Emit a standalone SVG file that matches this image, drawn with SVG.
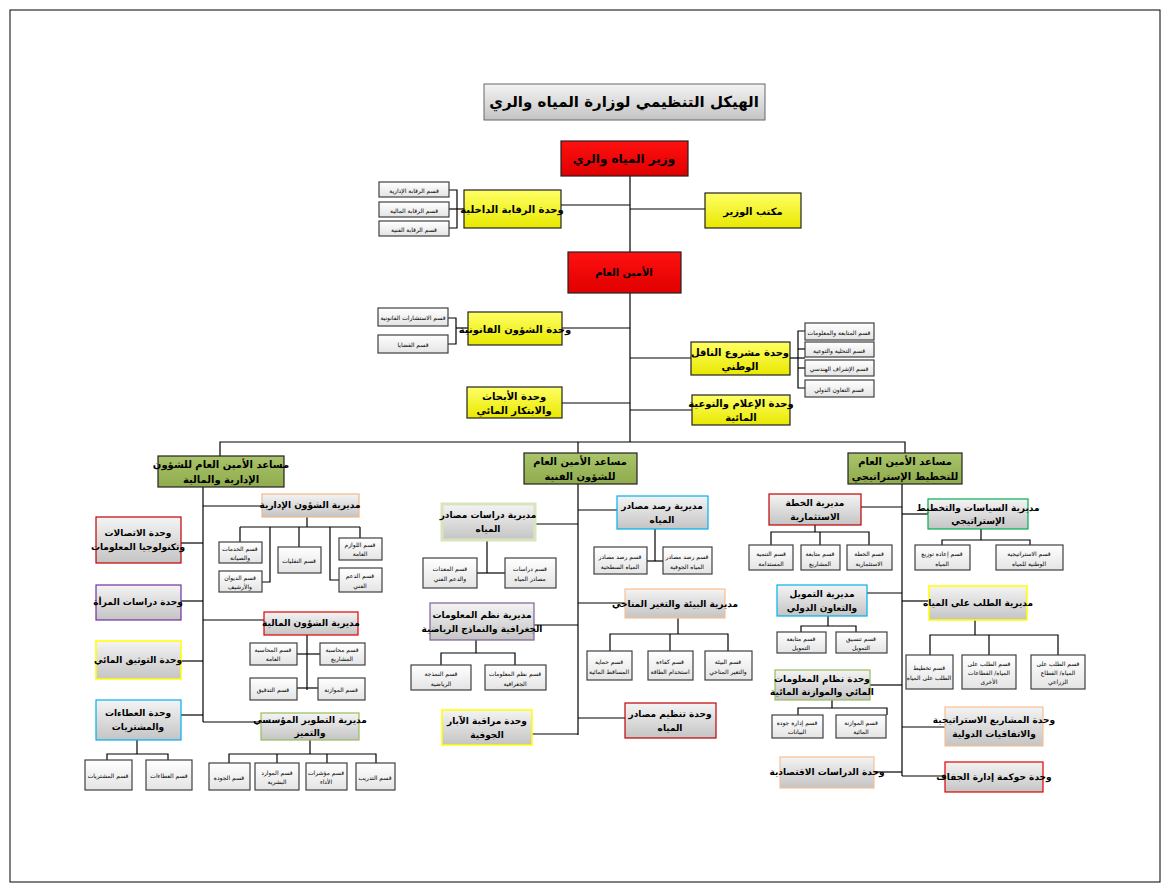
<svg xmlns="http://www.w3.org/2000/svg" width="1171" height="891" viewBox="0 0 1171 891">
<defs>
<linearGradient id="gg" x1="0" y1="0" x2="0" y2="1"><stop offset="0" stop-color="#f4f4f4"/><stop offset="1" stop-color="#c4c4c4"/></linearGradient>
<linearGradient id="gw" x1="0" y1="0" x2="0" y2="1"><stop offset="0" stop-color="#ffffff"/><stop offset="1" stop-color="#e4e4e4"/></linearGradient>
<linearGradient id="gy" x1="0" y1="0" x2="0" y2="1"><stop offset="0" stop-color="#ffff66"/><stop offset="1" stop-color="#e8e800"/></linearGradient>
<linearGradient id="gr" x1="0" y1="0" x2="0" y2="1"><stop offset="0" stop-color="#ff1010"/><stop offset="1" stop-color="#e00000"/></linearGradient>
<linearGradient id="go" x1="0" y1="0" x2="0" y2="1"><stop offset="0" stop-color="#a9c46a"/><stop offset="1" stop-color="#8fab4d"/></linearGradient>
</defs>
<style>
text{font-family:"DejaVu Sans","Noto Sans",sans-serif;text-anchor:middle;dominant-baseline:central;fill:#000}
.t{font-size:10px;font-weight:bold}
.s{font-size:6px}
.g{fill:url(#gg)}
.w{fill:url(#gw);stroke:#404040;stroke-width:1.2}
.y{fill:url(#gy);stroke:#222;stroke-width:1.2}
.r{fill:url(#gr);stroke:#222;stroke-width:1.2}
.o{fill:url(#go);stroke:#222;stroke-width:1.2}
.c line,.c polyline{stroke:#000;stroke-width:1.2;fill:none}
</style>
<rect width="1171" height="891" fill="#fff"/>
<rect x="10" y="10" width="1150" height="872" fill="none" stroke="#000" stroke-width="1"/>
<g class="c">
<line x1="630" y1="176" x2="630" y2="442"/>
<line x1="630" y1="209" x2="705" y2="209"/><line x1="561" y1="205" x2="630" y2="205"/>
<polyline points="449,190 457,190 457,228 449,228"/><line x1="449" y1="209" x2="464" y2="209"/>
<line x1="562" y1="328" x2="630" y2="328"/>
<polyline points="448,318 456,318 456,344 448,344"/><line x1="456" y1="328" x2="468" y2="328"/>
<line x1="630" y1="358" x2="691" y2="358"/>
<polyline points="805,331 798,331 798,388 805,388"/><line x1="790" y1="358" x2="805" y2="358"/><line x1="798" y1="349" x2="805" y2="349"/><line x1="798" y1="368" x2="805" y2="368"/>
<line x1="562" y1="403" x2="630" y2="403"/><line x1="630" y1="410" x2="692" y2="410"/>
<polyline points="220,456 220,442 905,442 905,453"/><line x1="578" y1="442" x2="578" y2="453"/>
<line x1="203" y1="487" x2="203" y2="722"/>
<line x1="203" y1="506" x2="262" y2="506"/>
<line x1="307" y1="517" x2="307" y2="527"/><line x1="240" y1="527" x2="360" y2="527"/>
<line x1="240" y1="527" x2="240" y2="542"/><polyline points="270,527 270,582 262,582"/><line x1="299" y1="527" x2="299" y2="547"/><polyline points="330,527 330,580 340,580"/><line x1="360" y1="527" x2="360" y2="538"/>
<line x1="181" y1="543" x2="203" y2="543"/><line x1="181" y1="601" x2="203" y2="601"/><line x1="181" y1="661" x2="203" y2="661"/><line x1="181" y1="715" x2="203" y2="715"/>
<line x1="137" y1="740" x2="137" y2="754"/><polyline points="107,760 107,754 168,754 168,760"/>
<line x1="203" y1="620" x2="264" y2="620"/>
<line x1="307" y1="635" x2="307" y2="690"/><line x1="297" y1="654" x2="320" y2="654"/><line x1="297" y1="688" x2="318" y2="688"/>
<line x1="203" y1="722" x2="261" y2="722"/>
<line x1="310" y1="740" x2="310" y2="754"/><polyline points="229,763 229,754 376,754 376,763"/><line x1="277" y1="754" x2="277" y2="763"/><line x1="327" y1="754" x2="327" y2="763"/>
<line x1="578" y1="484" x2="578" y2="735"/>
<line x1="535" y1="524" x2="578" y2="524"/><line x1="487" y1="540" x2="487" y2="573"/><line x1="477" y1="573" x2="505" y2="573"/>
<line x1="578" y1="510" x2="617" y2="510"/><line x1="655" y1="529" x2="655" y2="561"/><line x1="647" y1="561" x2="663" y2="561"/>
<line x1="578" y1="603" x2="625" y2="603"/><line x1="678" y1="618" x2="678" y2="634"/><polyline points="610,651 610,634 728,634 728,651"/><line x1="670" y1="634" x2="670" y2="651"/>
<line x1="534" y1="625" x2="578" y2="625"/><line x1="476" y1="640" x2="476" y2="653"/><polyline points="441,665 441,653 515,653 515,665"/>
<line x1="532" y1="734" x2="578" y2="734"/><line x1="578" y1="718" x2="625" y2="718"/>
<line x1="902" y1="484" x2="902" y2="776"/>
<line x1="861" y1="507" x2="902" y2="507"/><line x1="815" y1="525" x2="815" y2="532"/><polyline points="771,545 771,532 869,532 869,545"/><line x1="820" y1="532" x2="820" y2="545"/>
<line x1="902" y1="514" x2="928" y2="514"/><line x1="981" y1="529" x2="981" y2="540"/><polyline points="942,545 942,540 1030,540 1030,545"/>
<line x1="867" y1="593" x2="902" y2="593"/><line x1="828" y1="616" x2="828" y2="626"/><polyline points="801,632 801,626 856,626 856,632"/>
<line x1="902" y1="601" x2="929" y2="601"/><line x1="975" y1="620" x2="975" y2="635"/><polyline points="930,655 930,635 1058,635 1058,655"/><line x1="989" y1="635" x2="989" y2="655"/>
<line x1="870" y1="685" x2="902" y2="685"/><line x1="832" y1="700" x2="832" y2="708"/><polyline points="798,715 798,708 887,708 887,715"/>
<line x1="902" y1="727" x2="945" y2="727"/><line x1="874" y1="772" x2="902" y2="772"/><line x1="902" y1="776" x2="945" y2="776"/>
</g>
<g id="title"><rect x="484" y="84" width="281" height="36" class="g" stroke="#666"/><text x="624" y="102" style="font-size:15px;font-weight:bold">الهيكل التنظيمي لوزارة المياه والري</text></g>
<g id="minister"><rect x="561" y="141" width="127" height="35" class="r"/><text x="624" y="159" class="t" style="font-size:12px">وزير المياه والري</text></g>
<g id="office"><rect x="705" y="193" width="96" height="35" class="y"/><text x="753" y="211" class="t">مكتب الوزير</text></g>
<g id="audit"><rect x="464" y="190" width="97" height="38" class="y"/><text x="512" y="209" class="t">وحدة الرقابة الداخلية</text></g>
<g id="a1"><rect x="379" y="182" width="70" height="15" class="w"/><text x="414" y="190" class="s">قسم الرقابة الإدارية</text></g>
<g id="a2"><rect x="379" y="202" width="70" height="15" class="w"/><text x="414" y="210" class="s">قسم الرقابة المالية</text></g>
<g id="a3"><rect x="379" y="221" width="70" height="15" class="w"/><text x="414" y="229" class="s">قسم الرقابة الفنية</text></g>
<g id="sg"><rect x="568" y="252" width="113" height="41" class="r"/><text x="624" y="272" class="t">الأمين العام</text></g>
<g id="legal"><rect x="468" y="312" width="94" height="33" class="y"/><text x="515" y="329" class="t">وحدة الشؤون القانونية</text></g>
<g id="l1"><rect x="378" y="308" width="70" height="18" class="w"/><text x="413" y="317" class="s">قسم الاستشارات القانونية</text></g>
<g id="l2"><rect x="378" y="335" width="70" height="18" class="w"/><text x="413" y="344" class="s">قسم القضايا</text></g>
<g id="carrier"><rect x="691" y="342" width="99" height="33" class="y"/><text x="740" y="352" class="t">وحدة مشروع الناقل</text><text x="740" y="366" class="t">الوطني</text></g>
<g id="c1"><rect x="805" y="323" width="69" height="17" class="w"/><text x="839" y="332" class="s">قسم المتابعة والمعلومات</text></g>
<g id="c2"><rect x="805" y="342" width="69" height="15" class="w"/><text x="839" y="350" class="s">قسم التحلية والتوعية</text></g>
<g id="c3"><rect x="805" y="360" width="69" height="16" class="w"/><text x="839" y="368" class="s">قسم الإشراف الهندسي</text></g>
<g id="c4"><rect x="805" y="380" width="69" height="17" class="w"/><text x="839" y="389" class="s">قسم التعاون الدولي</text></g>
<g id="research"><rect x="467" y="387" width="95" height="31" class="y"/><text x="514" y="396" class="t">وحدة الأبحاث</text><text x="514" y="410" class="t">والابتكار المائي</text></g>
<g id="media"><rect x="692" y="395" width="98" height="30" class="y"/><text x="741" y="403" class="t">وحدة الإعلام والتوعية</text><text x="741" y="417" class="t">المائية</text></g>
<g id="asgA"><rect x="158" y="456" width="126" height="31" class="o"/><text x="221" y="464" class="t">مساعد الأمين العام للشؤون</text><text x="221" y="479" class="t">الإدارية والمالية</text></g>
<g id="asgT"><rect x="524" y="453" width="113" height="31" class="o"/><text x="580" y="461" class="t">مساعد الأمين العام</text><text x="580" y="476" class="t">للشؤون الفنية</text></g>
<g id="asgS"><rect x="848" y="453" width="114" height="31" class="o"/><text x="905" y="461" class="t">مساعد الأمين العام</text><text x="905" y="476" class="t">للتخطيط الإستراتيجي</text></g>
<g id="admin"><rect x="262" y="494" width="97" height="23" class="g" stroke="#f0b888" stroke-width="1.2"/><text x="310" y="505" class="t" style="font-size:9px">مديرية الشؤون الإدارية</text></g>
<g id="ad1"><rect x="219" y="542" width="43" height="21" class="w"/><text x="240" y="548" class="s">قسم الخدمات</text><text x="240" y="557" class="s">والصيانة</text></g>
<g id="ad2"><rect x="219" y="571" width="43" height="21" class="w"/><text x="240" y="577" class="s">قسم الديوان</text><text x="240" y="586" class="s">والأرشيف</text></g>
<g id="ad3"><rect x="278" y="547" width="43" height="26" class="w"/><text x="299" y="560" class="s">قسم النقليات</text></g>
<g id="ad4"><rect x="339" y="538" width="43" height="22" class="w"/><text x="360" y="544" class="s">قسم اللوازم</text><text x="360" y="553" class="s">العامة</text></g>
<g id="ad5"><rect x="339" y="568" width="43" height="24" class="w"/><text x="360" y="575" class="s">قسم الدعم</text><text x="360" y="585" class="s">الفني</text></g>
<g id="ict"><rect x="96" y="517" width="85" height="46" class="g" stroke="#c00000" stroke-width="1.2"/><text x="138" y="533" class="t" style="font-size:9px">وحدة الاتصالات</text><text x="138" y="547" class="t" style="font-size:9px">وتكنولوجيا المعلومات</text></g>
<g id="women"><rect x="96" y="585" width="85" height="35" class="g" stroke="#7030a0" stroke-width="1.2"/><text x="138" y="602" class="t" style="font-size:9px">وحدة دراسات المرأة</text></g>
<g id="doc"><rect x="96" y="641" width="85" height="38" class="g" stroke="#ffff00" stroke-width="1.5"/><text x="138" y="660" class="t" style="font-size:9px">وحدة التوثيق المائي</text></g>
<g id="tender"><rect x="96" y="700" width="85" height="40" class="g" stroke="#00b0f0" stroke-width="1.2"/><text x="138" y="713" class="t" style="font-size:9px">وحدة العطاءات</text><text x="138" y="727" class="t" style="font-size:9px">والمشتريات</text></g>
<g id="te1"><rect x="85" y="760" width="47" height="30" class="w"/><text x="108" y="775" class="s">قسم المشتريات</text></g>
<g id="te2"><rect x="146" y="760" width="46" height="30" class="w"/><text x="169" y="775" class="s">قسم العطاءات</text></g>
<g id="fin"><rect x="264" y="612" width="94" height="23" class="g" stroke="#e00000" stroke-width="1.2"/><text x="311" y="623" class="t" style="font-size:9px">مديرية الشؤون المالية</text></g>
<g id="f1"><rect x="250" y="643" width="47" height="22" class="w"/><text x="273" y="649" class="s">قسم المحاسبة</text><text x="273" y="658" class="s">العامة</text></g>
<g id="f2"><rect x="320" y="643" width="45" height="22" class="w"/><text x="342" y="649" class="s">قسم محاسبة</text><text x="342" y="658" class="s">المشاريع</text></g>
<g id="f3"><rect x="250" y="678" width="47" height="22" class="w"/><text x="273" y="689" class="s">قسم التدقيق</text></g>
<g id="f4"><rect x="318" y="678" width="47" height="22" class="w"/><text x="341" y="689" class="s">قسم الموازنة</text></g>
<g id="inst"><rect x="261" y="713" width="98" height="27" class="g" stroke="#9bbb59" stroke-width="1.2"/><text x="310" y="720" class="t" style="font-size:9px">مديرية التطوير المؤسسي</text><text x="310" y="733" class="t" style="font-size:9px">والتميز</text></g>
<g id="i1"><rect x="209" y="763" width="41" height="27" class="w"/><text x="229" y="777" class="s">قسم الجودة</text></g>
<g id="i2"><rect x="255" y="763" width="44" height="27" class="w"/><text x="277" y="772" class="s">قسم الموارد</text><text x="277" y="781" class="s">البشرية</text></g>
<g id="i3"><rect x="306" y="763" width="41" height="27" class="w"/><text x="326" y="772" class="s">قسم مؤشرات</text><text x="326" y="781" class="s">الأداء</text></g>
<g id="i4"><rect x="356" y="763" width="39" height="27" class="w"/><text x="375" y="777" class="s">قسم التدريب</text></g>
<g id="wstud"><rect x="442" y="504" width="93" height="36" class="g" stroke="#d8e4bc" stroke-width="3"/><text x="488" y="515" class="t" style="font-size:9px">مديرية دراسات مصادر</text><text x="488" y="529" class="t" style="font-size:9px">المياه</text></g>
<g id="ws1"><rect x="423" y="558" width="54" height="30" class="w"/><text x="450" y="568" class="s">قسم المعدات</text><text x="450" y="578" class="s">والدعم الفني</text></g>
<g id="ws2"><rect x="505" y="558" width="51" height="30" class="w"/><text x="530" y="568" class="s">قسم دراسات</text><text x="530" y="578" class="s">مصادر المياه</text></g>
<g id="wmon"><rect x="617" y="496" width="91" height="33" class="g" stroke="#00b0f0" stroke-width="1.2"/><text x="662" y="506" class="t" style="font-size:9px">مديرية رصد مصادر</text><text x="662" y="520" class="t" style="font-size:9px">المياه</text></g>
<g id="wm1"><rect x="594" y="547" width="53" height="27" class="w"/><text x="620" y="556" class="s">قسم رصد مصادر</text><text x="620" y="566" class="s">المياه السطحية</text></g>
<g id="wm2"><rect x="663" y="547" width="49" height="27" class="w"/><text x="687" y="556" class="s">قسم رصد مصادر</text><text x="687" y="566" class="s">المياه الجوفية</text></g>
<g id="env"><rect x="625" y="589" width="100" height="29" class="g" stroke="#fac090" stroke-width="1.2"/><text x="675" y="604" class="t" style="font-size:9px">مديرية البيئة والتغير المناخي</text></g>
<g id="e1"><rect x="587" y="651" width="45" height="29" class="w"/><text x="609" y="661" class="s">قسم حماية</text><text x="609" y="671" class="s">المساقط المائية</text></g>
<g id="e2"><rect x="648" y="651" width="45" height="29" class="w"/><text x="670" y="661" class="s">قسم كفاءة</text><text x="670" y="671" class="s">استخدام الطاقة</text></g>
<g id="e3"><rect x="705" y="651" width="47" height="29" class="w"/><text x="728" y="661" class="s">قسم البيئة</text><text x="728" y="671" class="s">والتغير المناخي</text></g>
<g id="gis"><rect x="430" y="603" width="104" height="37" class="g" stroke="#7f6097" stroke-width="1.2"/><text x="482" y="615" class="t" style="font-size:9px">مديرية نظم المعلومات</text><text x="482" y="629" class="t" style="font-size:9px">الجغرافية والنماذج الرياضية</text></g>
<g id="g1"><rect x="411" y="665" width="60" height="25" class="w"/><text x="441" y="673" class="s">قسم النمذجة</text><text x="441" y="683" class="s">الرياضية</text></g>
<g id="g2"><rect x="485" y="665" width="61" height="25" class="w"/><text x="515" y="673" class="s">قسم نظم المعلومات</text><text x="515" y="683" class="s">الجغرافية</text></g>
<g id="wells"><rect x="442" y="710" width="90" height="35" class="g" stroke="#ffff00" stroke-width="1.5"/><text x="487" y="721" class="t" style="font-size:9px">وحدة مراقبة الآبار</text><text x="487" y="735" class="t" style="font-size:9px">الجوفية</text></g>
<g id="wreg"><rect x="625" y="703" width="91" height="35" class="g" stroke="#c00000" stroke-width="1.2"/><text x="670" y="714" class="t" style="font-size:9px">وحدة تنظيم مصادر</text><text x="670" y="728" class="t" style="font-size:9px">المياه</text></g>
<g id="inv"><rect x="769" y="494" width="92" height="31" class="g" stroke="#c00000" stroke-width="1.2"/><text x="815" y="503" class="t" style="font-size:9px">مديرية الخطة</text><text x="815" y="517" class="t" style="font-size:9px">الاستثمارية</text></g>
<g id="v1"><rect x="749" y="545" width="44" height="25" class="w"/><text x="771" y="553" class="s">قسم التنمية</text><text x="771" y="563" class="s">المستدامة</text></g>
<g id="v2"><rect x="801" y="545" width="39" height="25" class="w"/><text x="820" y="553" class="s">قسم متابعة</text><text x="820" y="563" class="s">المشاريع</text></g>
<g id="v3"><rect x="847" y="545" width="45" height="25" class="w"/><text x="869" y="553" class="s">قسم الخطة</text><text x="869" y="563" class="s">الاستثمارية</text></g>
<g id="pol"><rect x="928" y="499" width="100" height="30" class="g" stroke="#00b050" stroke-width="1.2"/><text x="978" y="508" class="t" style="font-size:9px">مديرية السياسات والتخطيط</text><text x="978" y="521" class="t" style="font-size:9px">الإستراتيجي</text></g>
<g id="p1"><rect x="915" y="545" width="55" height="25" class="w"/><text x="942" y="553" class="s">قسم إعادة توزيع</text><text x="942" y="563" class="s">المياه</text></g>
<g id="p2"><rect x="996" y="545" width="67" height="25" class="w"/><text x="1029" y="553" class="s">قسم الاستراتيجية</text><text x="1029" y="563" class="s">الوطنية للمياه</text></g>
<g id="fund"><rect x="777" y="585" width="90" height="31" class="g" stroke="#00b0f0" stroke-width="1.2"/><text x="822" y="594" class="t" style="font-size:9px">مديرية التمويل</text><text x="822" y="608" class="t" style="font-size:9px">والتعاون الدولي</text></g>
<g id="fu1"><rect x="777" y="632" width="49" height="21" class="w"/><text x="801" y="638" class="s">قسم متابعة</text><text x="801" y="647" class="s">التمويل</text></g>
<g id="fu2"><rect x="836" y="632" width="51" height="21" class="w"/><text x="861" y="638" class="s">قسم تنسيق</text><text x="861" y="647" class="s">التمويل</text></g>
<g id="demand"><rect x="929" y="586" width="98" height="34" class="g" stroke="#ffff00" stroke-width="1.5"/><text x="978" y="603" class="t" style="font-size:9px">مديرية الطلب على المياه</text></g>
<g id="d1"><rect x="906" y="655" width="47" height="34" class="w"/><text x="929" y="667" class="s">قسم تخطيط</text><text x="929" y="677" class="s">الطلب على المياه</text></g>
<g id="d2"><rect x="962" y="655" width="54" height="34" class="w"/><text x="989" y="663" class="s">قسم الطلب على</text><text x="989" y="672" class="s">المياه/ القطاعات</text><text x="989" y="681" class="s">الأخرى</text></g>
<g id="d3"><rect x="1031" y="655" width="54" height="34" class="w"/><text x="1058" y="663" class="s">قسم الطلب على</text><text x="1058" y="672" class="s">المياه/ القطاع</text><text x="1058" y="681" class="s">الزراعي</text></g>
<g id="wis"><rect x="775" y="670" width="95" height="30" class="g" stroke="#9bbb59" stroke-width="1.2"/><text x="822" y="679" class="t" style="font-size:9px">وحدة نظام المعلومات</text><text x="822" y="692" class="t" style="font-size:9px">المائي والموازنة المائية</text></g>
<g id="wi1"><rect x="772" y="715" width="51" height="23" class="w"/><text x="797" y="722" class="s">قسم إدارة جودة</text><text x="797" y="731" class="s">البيانات</text></g>
<g id="wi2"><rect x="836" y="715" width="50" height="23" class="w"/><text x="861" y="722" class="s">قسم الموازنة</text><text x="861" y="731" class="s">المائية</text></g>
<g id="strat"><rect x="945" y="707" width="98" height="39" class="g" stroke="#fac090" stroke-width="1.2"/><text x="994" y="720" class="t" style="font-size:9px">وحدة المشاريع الاستراتيجية</text><text x="994" y="734" class="t" style="font-size:9px">والاتفاقيات الدولية</text></g>
<g id="econ"><rect x="780" y="757" width="94" height="31" class="g" stroke="#fac090" stroke-width="1.2"/><text x="827" y="772" class="t" style="font-size:9px">وحدة الدراسات الاقتصادية</text></g>
<g id="drought"><rect x="945" y="762" width="98" height="30" class="g" stroke="#e00000" stroke-width="1.2"/><text x="994" y="777" class="t" style="font-size:9px">وحدة حوكمة إدارة الجفاف</text></g>
</svg>
